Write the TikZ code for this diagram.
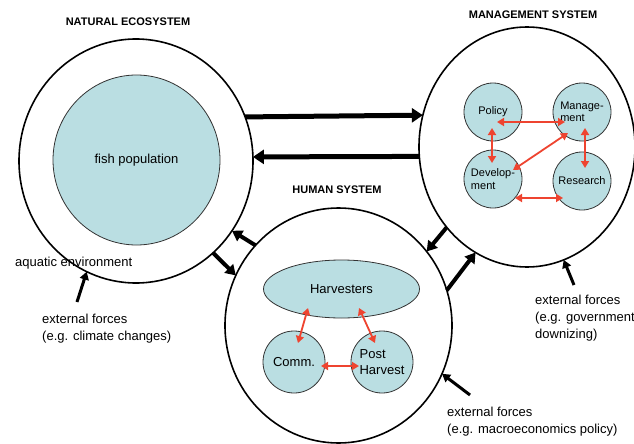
\documentclass[tikz,border=0pt]{standalone}
\usepackage{fontspec}
\setmainfont{Liberation Sans}
\usetikzlibrary{shapes.geometric,arrows.meta,calc}
\definecolor{fishblue}{RGB}{186,222,226}
\definecolor{linkred}{RGB}{238,68,48}

\begin{document}
\begin{tikzpicture}[x=1pt,y=-1pt,
	sysring/.style={draw,ellipse,line width=1.6pt,inner sep=0,outer sep=0},
	unit/.style={draw=black!80,fill=fishblue,line width=0.8pt,inner sep=0,outer sep=0,align=left},
	mgtunit/.style={unit,circle,minimum size=58pt,font=\fontsize{11}{12.5}\selectfont},
	humunit/.style={unit,circle,minimum size=62pt,font=\fontsize{13}{16}\selectfont},
	titletext/.style={inner sep=0,font=\fontsize{11}{13}\selectfont\bfseries},
	note/.style={inner sep=0,anchor=west,align=left,font=\fontsize{13}{17}\selectfont},
	bigarrow/.style={line width=5pt,-{Triangle[length=11pt,width=14pt]}},
	midarrow/.style={line width=4pt,-{Triangle[length=10pt,width=12pt]}},
	extarrow/.style={line width=3pt,-{Triangle[length=8pt,width=9pt]}},
	link/.style={linkred,line width=1.8pt,{Triangle[length=7pt,width=8pt]}-{Triangle[length=7pt,width=8pt]}}]
	\useasboundingbox (0,0) rectangle (634,444);
	%NATURAL ECOSYSTEM
	\node[titletext] (nattitle) at (128,22) {NATURAL ECOSYSTEM};
	\node[sysring,minimum width=234pt,minimum height=244pt] (nat) at (136,161) {};
	\node[unit,ellipse,minimum width=167pt,minimum height=170pt,font=\fontsize{13}{16}\selectfont] (fish) at (136.5,160) {fish population};
	\node[note] (aquatic) at (15,263) {aquatic environment};
	%MANAGEMENT SYSTEM
	\node[titletext] (mgmttitle) at (533,15) {MANAGEMENT SYSTEM};
	\node[sysring,minimum width=216pt,minimum height=240pt] (mgmt) at (527,147) {};
	\node[mgtunit] (pol) at (493,112) {Policy};
	\node[mgtunit] (mgt) at (582,112) {Manage-\\ment};
	\node[mgtunit] (dev) at (493,179) {Develop-\\ment};
	\node[mgtunit] (res) at (582,181) {Research};
	%HUMAN SYSTEM
	\node[titletext] (humtitle) at (337,190) {HUMAN SYSTEM};
	\node[sysring,minimum width=227pt,minimum height=235pt] (hum) at (338.5,325.5) {};
	\node[unit,ellipse,minimum width=156pt,minimum height=58pt,font=\fontsize{13}{16}\selectfont] (harv) at (341.5,289) {Harvesters};
	\node[humunit] (comm) at (294,362) {Comm.};
	\node[humunit] (post) at (382,362) {Post\\Harvest};
	%external forces
	\node[note] (climnote) at (42,328.5) {external forces\\(e.g. climate changes)};
	\node[note] (govnote) at (535,318.5) {external forces\\(e.g. government\\downizing)};
	\node[note] (macronote) at (447,421.5) {external forces\\(e.g. macroeconomics policy)};
	\coordinate (climtail) at (77,302);
	\coordinate (govtail) at (574,285);
	\coordinate (macrotail) at (470,395);
	\draw[extarrow] (climtail) -- (nat.246.8);
	\draw[extarrow] (govtail) -- (mgmt.288.7);
	\draw[extarrow] (macrotail) -- (hum.-25.6);
	%between the systems
	\draw[bigarrow] (nat.22.1) -- (mgmt.163.4);
	\draw[bigarrow] (mgmt.185.3) -- (nat.2);
	\draw[midarrow] (hum.136.5) -- (nat.-36.2);
	\draw[midarrow] (nat.-50.7) -- (hum.154.9);
	\draw[midarrow] (mgmt.225.7) -- (hum.40.7);
	\draw[midarrow] (hum.18.1) -- (mgmt.244.3);
	%links inside
	\draw[link] ($(pol)+(4,10)$) -- ($(mgt)+(-17,10)$);
	\draw[link] ($(pol)+(-1,16)$) -- ($(dev)+(-1,-16)$);
	\draw[link] ($(mgt)+(-14,21)$) -- ($(dev)+(20,-9)$);
	\draw[link] ($(mgt)+(3,16)$) -- ($(res)+(3,-13)$);
	\draw[link] ($(dev)+(22,19)$) -- ($(res)+(-19,17)$);
	\draw[link] ($(harv)+(-33.5,19)$) -- ($(comm)+(4,-19)$);
	\draw[link] ($(harv)+(17.5,19)$) -- ($(post)+(-7,-19)$);
	\draw[link] ($(comm)+(27,4)$) -- ($(post)+(-23,4)$);
\end{tikzpicture}
\end{document}
